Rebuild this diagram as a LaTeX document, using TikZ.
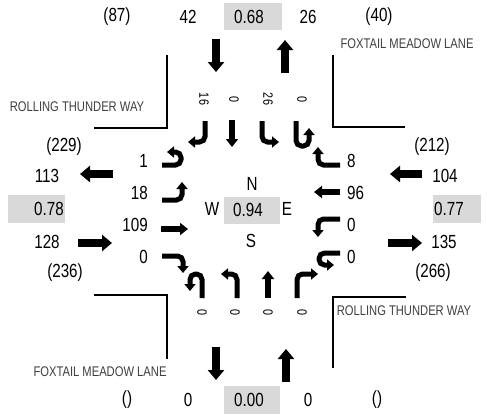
\documentclass[tikz,border=0pt]{standalone}
\usepackage{fontspec}
\setmainfont[FakeStretch=0.8]{Liberation Sans}
\newfontfamily\streetfont[FakeStretch=0.8]{Liberation Sans}
\usetikzlibrary{arrows.meta}
\definecolor{boxgray}{HTML}{D9D9D9}
\definecolor{streetgray}{HTML}{404040}
\begin{document}
\begin{tikzpicture}[x=1pt,y=-1pt,
  lbl/.style={font=\fontsize{19}{21}\selectfont, inner sep=0pt},
  sm/.style={font=\fontsize{13.5}{15}\selectfont, inner sep=0pt, rotate=-90},
  street/.style={font=\streetfont\fontsize{14}{16}\selectfont, text=streetgray, inner sep=0pt},
  gbox/.style={fill=boxgray, draw=none, inner sep=0pt},
  bigarrow/.style={line width=7.5pt, -{Triangle[width=16pt,length=10pt]}},
  thruarrow/.style={line width=6pt, -{Triangle[width=12pt,length=8pt]}},
  turnarrow/.style={line width=5pt, rounded corners=5.5pt, -{Triangle[width=11pt,length=7pt]}},
  corner/.style={line width=2pt}
]
\useasboundingbox (0,0) rectangle (487,416);
\fill[white] (0,0) rectangle (487,416);

% grey boxes
\node[gbox, minimum width=58pt, minimum height=27pt] (bN) at (253,16.5) {};
\node[gbox, minimum width=57pt, minimum height=28pt] (bW) at (36.5,209) {};
\node[gbox, minimum width=48pt, minimum height=28pt] (bE) at (457,209) {};
\node[gbox, minimum width=56pt, minimum height=27pt] (bC) at (252,210.5) {};
\node[gbox, minimum width=56pt, minimum height=28pt] (bS) at (252,400) {};

% top row
\node[lbl] (nwvol) at (117,17) {(87)};
\node[lbl] (nin) at (188,17) {42};
\node[lbl] (nphf) at (249,17) {0.68};
\node[lbl] (nout) at (308,17) {26};
\node[lbl] (nevol) at (379,17) {(40)};
\draw[bigarrow] (216,39) -- (216,72);
\draw[bigarrow] (285,73) -- (285,40);

% bottom row
\node[lbl] (swvol) at (127,400) {()};
\node[lbl] (sout) at (188,400) {0};
\node[lbl] (sphf) at (249,400) {0.00};
\node[lbl] (sin) at (308,400) {0};
\node[lbl] (sevol) at (377,400) {()};
\draw[bigarrow] (216,347) -- (216,380);
\draw[bigarrow] (286,382) -- (286,349);

% left side
\node[lbl] (wvol1) at (64,147) {(229)};
\node[lbl] (wout) at (47,176) {113};
\node[lbl] (wphf) at (49,209) {0.78};
\node[lbl] (win) at (47,242) {128};
\node[lbl] (wvol2) at (65,273) {(236)};
\draw[bigarrow] (113,174) -- (80,174);
\draw[bigarrow] (78,243) -- (112,243);

% right side
\node[lbl] (evol1) at (432,147) {(212)};
\node[lbl] (ein) at (445,176) {104};
\node[lbl] (ephf) at (449,209) {0.77};
\node[lbl] (eout) at (444,242) {135};
\node[lbl] (evol2) at (433,273) {(266)};
\draw[bigarrow] (422,174) -- (390,174);
\draw[bigarrow] (388,243) -- (422,243);

% centre
\node[lbl] (cn) at (252,184) {N};
\node[lbl] (cw) at (212,209) {W};
\node[lbl] (cphf) at (248,210) {0.94};
\node[lbl] (ce) at (287,209) {E};
\node[lbl] (cs) at (251,241) {S};

% street names and corners
\node[street] (st1) at (407,44) {FOXTAIL MEADOW LANE};
\node[street] (st2) at (77,107) {ROLLING THUNDER WAY};
\node[street] (st3) at (404,311) {ROLLING THUNDER WAY};
\node[street] (st4) at (100,372) {FOXTAIL MEADOW LANE};
\draw[corner] (167,55) -- (167,128) -- (94,128);
\draw[corner] (333,55) -- (333,127) -- (405,127);
\draw[corner] (94,295) -- (167,295) -- (167,359);
\draw[corner] (333,368) -- (333,297) -- (406,297);

% north approach
\node[sm] (nR) at (204,99) {16};
\node[sm] (nT) at (234,99) {0};
\node[sm] (nL) at (268,99) {26};
\node[sm] (nU) at (302,99) {0};
\draw[turnarrow] (205,121) -- (205,142) -- (188,142);
\draw[thruarrow] (232,120) -- (232,147);
\draw[turnarrow] (262,121) -- (262,142) -- (279,142);
\draw[turnarrow] (296,121) -- (296,146) -- (309,146) -- (309,128);

% west approach
\node[lbl, anchor=east] (wU) at (148,161) {1};
\node[lbl, anchor=east] (wL) at (148,193) {18};
\node[lbl, anchor=east] (wT) at (148,225) {109};
\node[lbl, anchor=east] (wR) at (148,257) {0};
\draw[turnarrow] (162,165) -- (181,165) -- (181,152) -- (167,152);
\draw[turnarrow] (162,200) -- (182,200) -- (182,182);
\draw[thruarrow] (161,229) -- (188,229);
\draw[turnarrow] (162,256) -- (183,256) -- (183,273);

% east approach
\node[lbl, anchor=west] (eR) at (347,161) {8};
\node[lbl, anchor=west] (eT) at (347,193) {96};
\node[lbl, anchor=west] (eL) at (347,225) {0};
\node[lbl, anchor=west] (eU) at (347,257) {0};
\draw[turnarrow] (340,165) -- (318,165) -- (318,147);
\draw[thruarrow] (340,192) -- (314,192);
\draw[turnarrow] (340,219) -- (318,219) -- (318,237);
\draw[turnarrow] (340,253) -- (319,253) -- (319,265) -- (334,265);

% south approach
\node[sm] (sU) at (202,312) {0};
\node[sm] (sL) at (235,312) {0};
\node[sm] (sT) at (268,312) {0};
\node[sm] (sR) at (302,312) {0};
\draw[turnarrow] (202,298) -- (202,274) -- (190,274) -- (190,291);
\draw[turnarrow] (237,298) -- (237,274) -- (221,274);
\draw[thruarrow] (268,298) -- (268,271);
\draw[turnarrow] (297,298) -- (297,274) -- (318,274);
\end{tikzpicture}
\end{document}
